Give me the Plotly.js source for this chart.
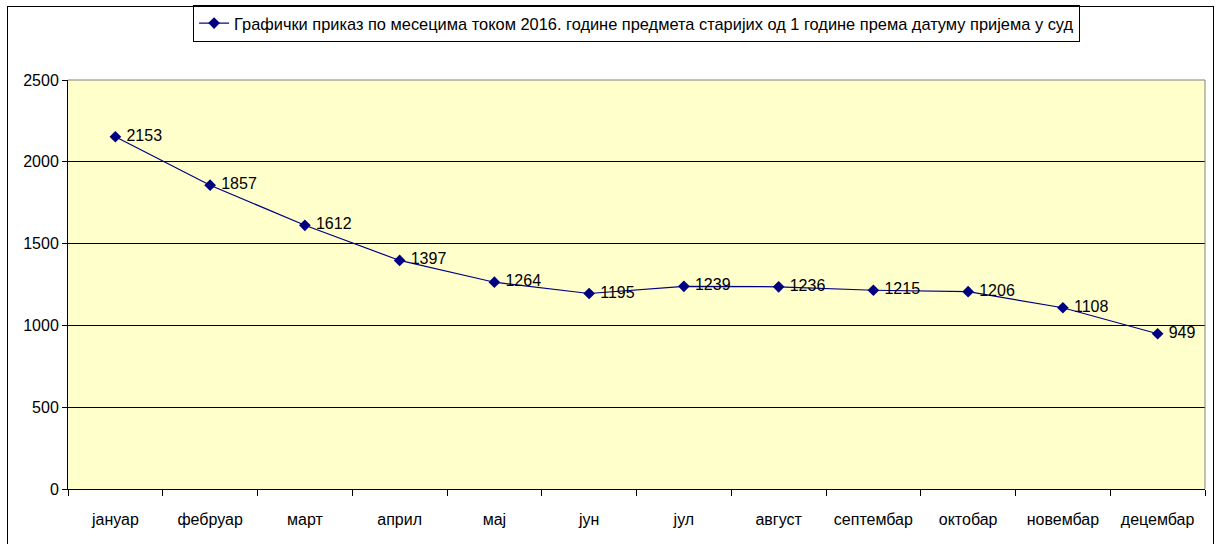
<!DOCTYPE html>
<html>
<head>
<meta charset="utf-8">
<script src="https://cdn.plot.ly/plotly-3.0.1.min.js"></script>
<style>
  html, body { margin: 0; padding: 0; background: #fff; }
  #wrap { position: relative; width: 1219px; height: 544px; }
  #chart { width: 1219px; height: 544px; }
  #frame { position: absolute; left: 7px; top: 6px; width: 1207px; height: 540px; border: 1px solid #000; box-sizing: border-box; pointer-events: none; }
</style>
</head>
<body>
<div id="wrap">
  <div id="chart"></div>
  <div id="frame"></div>
</div>
<script>
const months = ["јануар", "фебруар", "март", "април", "мај", "јун", "јул", "август", "септембар", "октобар", "новембар", "децембар"];
const cases = [2153, 1857, 1612, 1397, 1264, 1195, 1239, 1236, 1215, 1206, 1108, 949];
const seriesName = "Графички приказ по месецима током 2016. године предмета старијих од 1 године према датуму пријема у суд";
const yTicks = [0, 500, 1000, 1500, 2000, 2500];

const font = "Liberation Sans, Arial, sans-serif";

const trace = {
  x: months,
  y: cases,
  name: seriesName,
  type: "scatter",
  mode: "lines+markers+text",
  text: cases.map(v => " " + v),
  textposition: "middle right",
  textfont: { family: font, size: 16, color: "#000" },
  line: { color: "#000080", width: 1.2 },
  marker: { symbol: "diamond", size: 9, color: "#000080" },
  showlegend: true,
  cliponaxis: false
};

const layout = {
  width: 1219,
  height: 544,
  margin: { l: 68, r: 14, t: 80, b: 55, autoexpand: false },
  paper_bgcolor: "#ffffff",
  plot_bgcolor: "#FFFFCC",
  font: { family: font, size: 16, color: "#000" },
  showlegend: true,
  legend: {
    x: 0.11, xanchor: "left",
    y: 1.093, yanchor: "bottom",
    bordercolor: "#000", borderwidth: 1,
    bgcolor: "#fff",
    font: { family: font, size: 16.4, color: "#000" }
  },
  xaxis: {
    type: "category",
    range: [-0.5, 11.5],
    tickson: "boundaries",
    ticks: "outside",
    ticklen: 6,
    tickcolor: "#000",
    showgrid: false,
    showline: true,
    linecolor: "#000",
    linewidth: 1,
    zeroline: false,
    automargin: false,
    ticklabelstandoff: 16,
    tickfont: { family: font, size: 16, color: "#000" }
  },
  yaxis: {
    range: [0, 2500],
    tickvals: yTicks,
    ticktext: yTicks.map(String),
    ticks: "outside",
    ticklen: 5,
    tickcolor: "#000",
    showgrid: true,
    gridcolor: "#000",
    gridwidth: 1,
    showline: true,
    linecolor: "#000",
    linewidth: 1,
    zeroline: false,
    automargin: false,
    tickfont: { family: font, size: 16, color: "#000" }
  },
  shapes: [
    { type: "line", xref: "paper", yref: "paper", x0: 0, x1: 1, y0: 1, y1: 1, line: { color: "#808080", width: 1 } },
    { type: "line", xref: "paper", yref: "paper", x0: 1, x1: 1, y0: 0, y1: 1, line: { color: "#808080", width: 1 } }
  ]
};

Plotly.newPlot("chart", [trace], layout, { displayModeBar: false, staticPlot: true });
</script>
</body>
</html>
